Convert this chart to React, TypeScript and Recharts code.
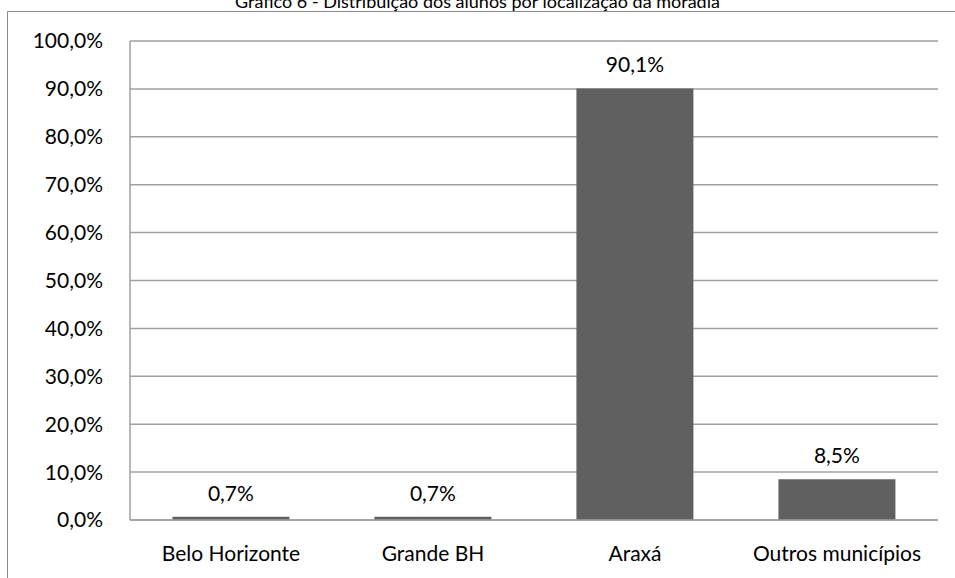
import React from "react";
import {
  BarChart,
  Bar,
  XAxis,
  YAxis,
  CartesianGrid,
  LabelList,
} from "recharts";

const categories = ["Belo Horizonte", "Grande BH", "Araxá", "Outros municípios"];
const shares = [0.007, 0.007, 0.901, 0.085];
const yTicks = [0, 0.1, 0.2, 0.3, 0.4, 0.5, 0.6, 0.7, 0.8, 0.9, 1];
const title = "Gráfico 6 - Distribuição dos alunos por localização da moradia";

const font = "Lato, 'Open Sans', sans-serif";

const pct = (v: number) => `${(v * 100).toFixed(1).replace(".", ",")}%`;

export default function App() {
  const data = categories.map((name, i) => ({ name, value: shares[i] }));

  return (
    <div
      style={{
        position: "absolute",
        left: 0,
        top: 0,
        width: 955,
        height: 578,
        overflow: "hidden",
        background: "#fff",
        fontFamily: font,
      }}
    >
      {/* chart frame, only top/left edges show in the crop */}
      <div
        style={{
          position: "absolute",
          left: 7,
          top: 11,
          width: 980,
          height: 600,
          border: "1px solid #8c8c8c",
        }}
      />
      <div
        style={{
          position: "absolute",
          left: 0,
          width: 955,
          top: -10,
          textAlign: "center",
          fontSize: 18,
          color: "#000",
          lineHeight: "22px",
        }}
      >
        {title}
      </div>

      <BarChart
        width={955}
        height={578}
        data={data}
        margin={{ top: 41, right: 17, bottom: 28, left: 0 }}
        barCategoryGap="21%"
        style={{ position: "absolute", left: 0, top: 0 }}
      >
        <CartesianGrid vertical={false} stroke="#a0a0a0" strokeWidth={1.5} />
        <XAxis
          dataKey="name"
          axisLine={{ stroke: "#a0a0a0", strokeWidth: 1.5 }}
          tickLine={false}
          tickMargin={20}
          tick={{ fontSize: 21, fill: "#000", fontFamily: font }}
        />
        <YAxis
          width={130}
          domain={[0, 1]}
          ticks={yTicks}
          tickFormatter={pct}
          axisLine={{ stroke: "#a0a0a0", strokeWidth: 1.5 }}
          tickLine={false}
          tickMargin={21}
          tick={{ fontSize: 21, fill: "#000", fontFamily: font }}
        />
        <Bar dataKey="value" fill="#606060" isAnimationActive={false}>
          <LabelList
            dataKey="value"
            position="top"
            offset={16}
            formatter={(v: number) => pct(v)}
            style={{ fontSize: 21, fill: "#000", fontFamily: font }}
          />
        </Bar>
      </BarChart>
    </div>
  );
}
